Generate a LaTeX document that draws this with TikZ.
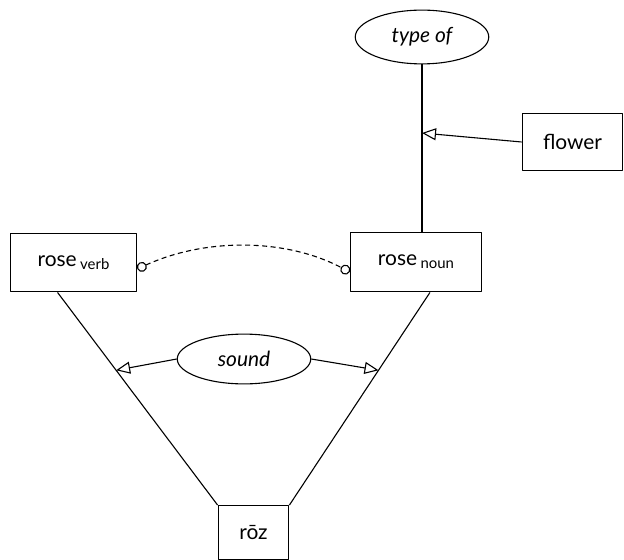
\documentclass[tikz,border=0pt]{standalone}
\usepackage{fontspec}
\setmainfont{Lato}
\usetikzlibrary{arrows.meta,shapes.geometric}
\newcommand{\sbs}[1]{\,\raisebox{-3bp}{\fontsize{15}{18}\selectfont #1}}

\begin{document}
\begin{tikzpicture}[x=1bp,y=-1bp,>={Triangle[open,length=14bp,width=12bp]},line join=bevel,line width=1.1bp,
  box/.style={draw,rectangle,inner sep=0pt},
  rel/.style={draw,ellipse,inner sep=0pt},
  font=\fontsize{21}{25}\selectfont]
    \useasboundingbox (0,0) rectangle (624,560);
    %%
    \node (typeof) at (422,37) [rel,minimum width=134,minimum height=54] {\itshape type of};
    \node (flower) at (572.5,142) [box,minimum width=101,minimum height=58] {flower};
    \node (verb) at (73.5,262.5) [box,minimum width=127,minimum height=59] {rose\sbs{verb}};
    \node (noun) at (416,262) [box,minimum width=132,minimum height=60] {rose\sbs{noun}};
    \node (sound) at (244,359) [rel,minimum width=134,minimum height=50] {\itshape sound};
    \node (roz) at (253.5,532.5) [box,minimum width=71,minimum height=54] {rōz};
    %%
    \coordinate (thit) at (422,133);
    \draw (typeof.south) -- (typeof.south |- noun.north);
    \draw [->] (flower.west) -- (thit);
    \draw [dash pattern=on 5bp off 3.5bp,{Circle[open,length=10bp]}-{Circle[open,length=10bp]}]
      ([yshift=-6.5]verb.east) .. controls (205,238) and (285,238) .. ([yshift=-10]noun.west);
    \draw ([xshift=-16]verb.south) -- (roz.north west) coordinate[pos=0.366] (lhit);
    \draw ([xshift=14]noun.south) -- (roz.north east) coordinate[pos=0.366] (rhit);
    \draw [->] (sound.west) -- (lhit);
    \draw [->] (sound.east) -- (rhit);
    %
\end{tikzpicture}
\end{document}
